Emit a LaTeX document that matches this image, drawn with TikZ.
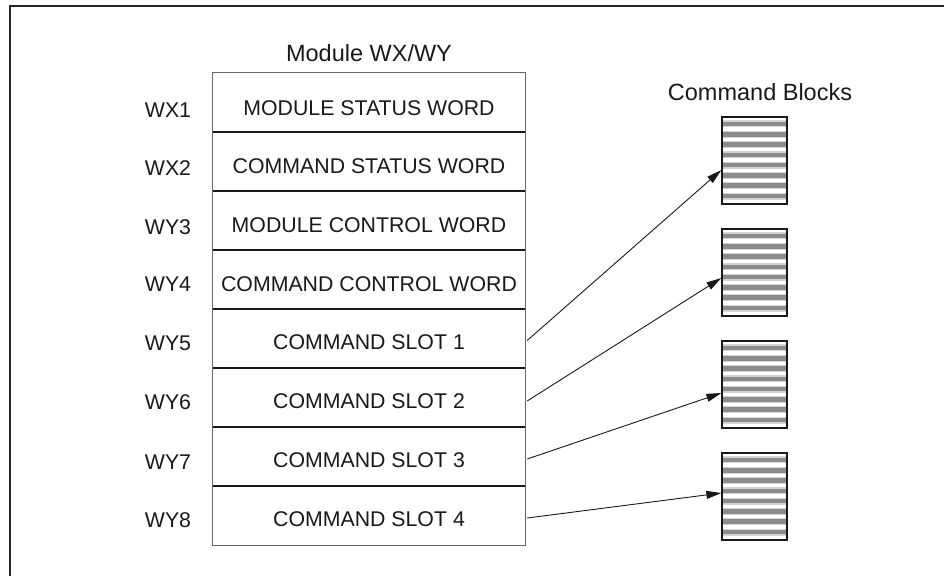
\documentclass[tikz,border=0pt]{standalone}
\usepackage{fontspec}
\setmainfont{Liberation Sans}
\usetikzlibrary{arrows.meta,calc}
\definecolor{stripedark}{gray}{0.55}
\definecolor{stripelight}{gray}{0.83}
\definecolor{rimgray}{gray}{0.40}
\tikzset{
  txt/.style={inner sep=0pt, font=\fontsize{21.3}{21.3}\selectfont, text=black!90},
  headtxt/.style={inner sep=0pt, font=\fontsize{23.5}{23.5}\selectfont, text=black!90},
  rowbox/.style={minimum width=312pt, minimum height=59pt, inner sep=0pt},
  blockbox/.style={draw=black!90, line width=1.3pt, minimum width=65pt,
    minimum height=87pt, inner sep=0pt,
    path picture={
      \foreach \i in {0,...,7}{
        \fill[stripelight] ($(path picture bounding box.north west)+(0pt,-3.4pt-\i*10.3pt)$)
          rectangle ++(65pt,-7pt);
        \fill[stripedark] ($(path picture bounding box.north west)+(0pt,-4.6pt-\i*10.3pt)$)
          rectangle ++(65pt,-4.6pt);
      }
    }},
  link/.style={line width=0.9pt, black!90, -{Triangle[length=15pt,width=8pt]}}
}
\begin{document}
\begin{tikzpicture}[x=1pt,y=-1pt]
\useasboundingbox (0,0) rectangle (944,575);
% outer frame, open to the right and bottom
\draw[line width=2.4pt, black!85] (10,580) -- (10,6) -- (950,6);

% register table
\node[headtxt] (title) at (369,53) {Module WX/WY};
\foreach \k [evaluate=\k as \cy using 43.5+59*\k] in {1,...,8}{
  \node[rowbox] (r\k) at (369,\cy) {};
}
\foreach \k in {1,...,7}{
  \draw[line width=1.7pt, black!90] (r\k.south west) -- (r\k.south east);
}
\draw[line width=1.3pt, rimgray] (r1.north west) rectangle (r8.south east);

\node[txt] (t1) at ([yshift=-6pt]r1.center) {MODULE STATUS WORD};
\node[txt] (t2) at ([yshift=-5pt]r2.center) {COMMAND STATUS WORD};
\node[txt] (t3) at ([yshift=-5pt]r3.center) {MODULE CONTROL WORD};
\node[txt] (t4) at ([yshift=-5pt]r4.center) {COMMAND CONTROL WORD};
\node[txt] (t5) at ([yshift=-4pt]r5.center) {COMMAND SLOT 1};
\node[txt] (t6) at ([yshift=-4pt]r6.center) {COMMAND SLOT 2};
\node[txt] (t7) at ([yshift=-4pt]r7.center) {COMMAND SLOT 3};
\node[txt] (t8) at ([yshift=-3.5pt]r8.center) {COMMAND SLOT 4};

% register addresses
\foreach \k/\lab/\dy in {1/WX1/8,2/WX2/7,3/WY3/7,4/WY4/5,5/WY5/5,6/WY6/5,7/WY7/6,8/WY8/5}{
  \node[txt] (a\k) at ([xshift=-201pt,yshift=-\dy pt]r\k.center) {\lab};
}

% command blocks
\node[headtxt] (cbtitle) at (760,92) {Command Blocks};
\node[blockbox] (b1) at (754.5,160.5) {};
\node[blockbox] (b2) at (754.5,272.5) {};
\node[blockbox] (b3) at (754.5,384.5) {};
\node[blockbox] (b4) at (754.5,496.5) {};

% slot-to-block pointers
\draw[link] ([xshift=2pt,yshift=-2pt]r5.east) -- ([yshift=-9.5pt]b1.west);
\draw[link] ([xshift=2pt,yshift=-3.5pt]r6.east) -- ([yshift=-5.5pt]b2.west);
\draw[link] ([xshift=2pt,yshift=-2.5pt]r7.east) -- ([yshift=-8.5pt]b3.west);
\draw[link] ([xshift=2pt,yshift=-2.5pt]r8.east) -- ([yshift=3.5pt]b4.west);
\end{tikzpicture}
\end{document}
